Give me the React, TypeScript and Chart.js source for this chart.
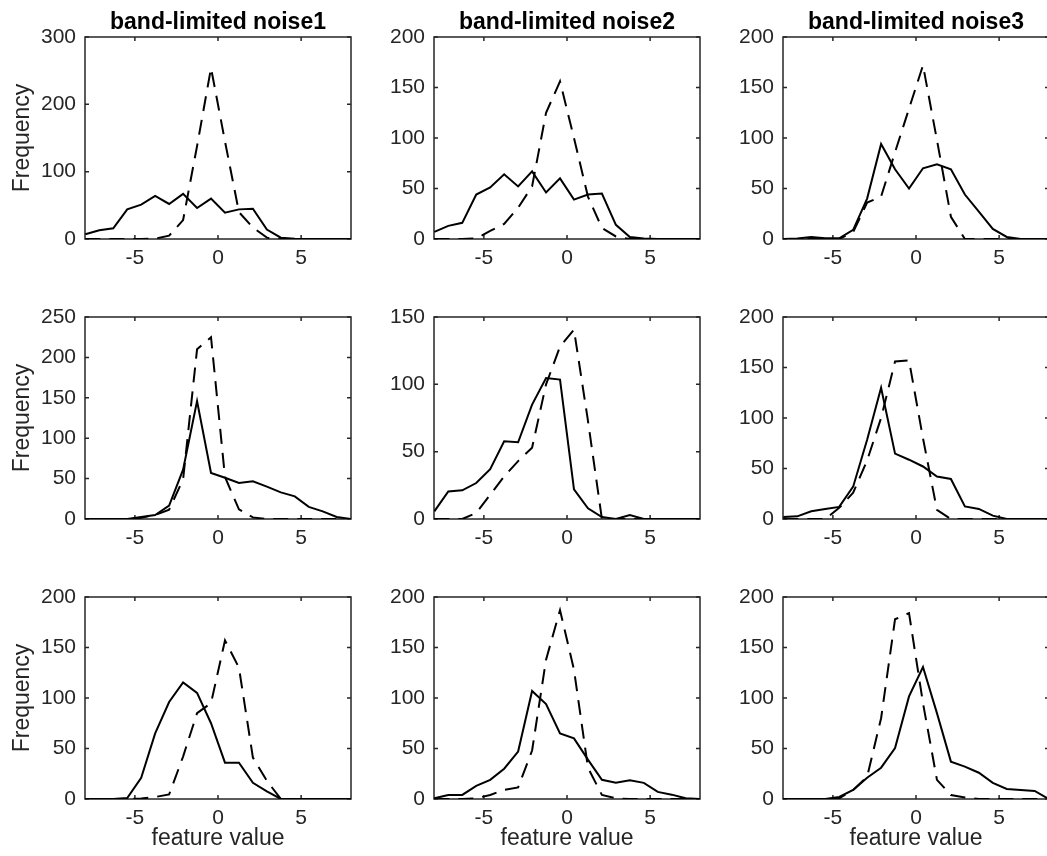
import React, { useEffect, useRef } from "react";
import { Chart, registerables } from "chart.js";

Chart.register(...registerables);

// ---------------- data ----------------
const binCenters = [
  -7.98, -7.14, -6.3, -5.46, -4.62, -3.78, -2.94, -2.1, -1.26, -0.42,
  0.42, 1.26, 2.1, 2.94, 3.78, 4.62, 5.46, 6.3, 7.14, 7.98,
];

const columnTitles = ["band-limited noise1", "band-limited noise2", "band-limited noise3"];
const yAxisLabel = "Frequency";
const xAxisLabel = "feature value";
const xTickValues = [-5, 0, 5];

const yTicksBy100to300 = [0, 100, 200, 300];
const yTicksBy50to250 = [0, 50, 100, 150, 200, 250];
const yTicksBy50to200 = [0, 50, 100, 150, 200];
const yTicksBy50to150 = [0, 50, 100, 150];

// row 1
const r1c1Solid = [7, 13, 16, 44, 51, 64, 52, 67, 46, 60, 39, 44, 45, 14, 2, 0.5, 0, 0, 0, 0];
const r1c1Dashed = [0, 0, 0, 0, 0, 0.5, 5, 28, 138, 254, 145, 40, 17, 2, 0, 0, 0, 0, 0, 0];
const r1c2Solid = [7, 13, 16, 44, 51, 64, 52, 67, 46, 60, 39, 44, 45, 14, 2, 0.5, 0, 0, 0, 0];
const r1c2Dashed = [0, 0, 0, 0.5, 8, 15, 31, 52, 125, 156, 100, 42, 11, 2.5, 0, 0, 0, 0, 0, 0];
const r1c3Solid = [0, 0.5, 2, 0.7, 0.7, 9, 40, 94, 69, 50, 70, 74, 69, 44, 27, 10, 2, 0, 0, 0];
const r1c3Dashed = [0, 0, 0, 0, 0, 7, 36, 42, 86, 129, 172, 98, 22, 0, 0, 0, 0, 0, 0, 0];

// row 2
const r2c1Solid = [0, 0, 0, 0, 2.5, 5, 16.5, 61, 146, 57, 51, 44.5, 46.6, 40, 33, 28, 15, 9.5, 2.5, 0];
const r2c1Dashed = [0, 0, 0, 0, 1.5, 5, 11.5, 49, 210, 225, 52, 12, 2, 0, 0, 0, 0, 0, 0, 0];
const r2c2Solid = [5.7, 20.5, 21.3, 26.7, 37, 57.7, 57, 85, 104.7, 103.5, 22, 8, 1.5, 0, 3, 0, 0, 0, 0, 0];
const r2c2Dashed = [0, 0, 0, 4.5, 18, 31.7, 43, 53, 100, 128, 140.6, 73, 0, 0, 0, 0, 0, 0, 0, 0];
const r2c3Solid = [2, 2.6, 7.6, 10, 12, 32, 78.5, 130, 64.7, 58.7, 52, 42, 39.6, 12.5, 10, 3.3, 0, 0, 0, 0];
const r2c3Dashed = [0, 0, 0, 0, 11, 26, 58, 100, 156, 157, 80, 9, 0, 0, 0, 0, 0, 0, 0, 0];

// row 3
const r3c1Solid = [0, 0, 0, 1, 21, 65, 96, 115.5, 105, 75, 36, 36, 16, 7.6, 0, 0, 0, 0, 0, 0];
const r3c1Dashed = [0, 0, 0, 0, 0.5, 2, 4.5, 42, 85, 95, 157, 130, 41, 18, 0, 0, 0, 0, 0, 0];
const r3c2Solid = [0.7, 4, 4, 13, 19, 30, 47, 107, 94, 65, 60, 39, 19, 16, 18.5, 16, 7, 4.3, 0.7, 0];
const r3c2Dashed = [0, 0, 0, 0.7, 4, 9, 11.5, 48, 138, 187, 128, 31, 4, 0.7, 0, 0, 0, 0, 0, 0];
const r3c3Solid = [0, 0, 0, 0, 2, 9, 21, 31, 50.5, 101.6, 130.7, 85, 37, 32, 26, 16, 10, 9, 8, 0];
const r3c3Dashed = [0, 0, 0, 0, 0.7, 9, 22, 80, 178, 184, 95, 19, 4, 1.5, 0, 0, 0, 0, 0, 0];

const panelSolid = [
  [r1c1Solid, r1c2Solid, r1c3Solid],
  [r2c1Solid, r2c2Solid, r2c3Solid],
  [r3c1Solid, r3c2Solid, r3c3Solid],
];
const panelDashed = [
  [r1c1Dashed, r1c2Dashed, r1c3Dashed],
  [r2c1Dashed, r2c2Dashed, r2c3Dashed],
  [r3c1Dashed, r3c2Dashed, r3c3Dashed],
];
const panelYTicks = [
  [yTicksBy100to300, yTicksBy50to200, yTicksBy50to200],
  [yTicksBy50to250, yTicksBy50to150, yTicksBy50to200],
  [yTicksBy50to200, yTicksBy50to200, yTicksBy50to200],
];

// ---------------- layout ----------------
const PLOT_LEFT = [85, 434, 783];
const PLOT_TOP = [37, 317, 597];
const PLOT_W = 266;
const PLOT_H = 202;
const PAD_L = 85;
const PAD_T = 37;
const PAD_R = 10;
const PAD_B = 57;
const FONT = "'Liberation Sans', Arial, Helvetica, sans-serif";
const AXIS_COLOR = "#262626";
const TICK_LEN = 4;

const boxPlugin = {
  id: "matlabBox",
  beforeDatasetsDraw(chart: any) {
    const { ctx, chartArea, scales } = chart;
    const { left, right, top, bottom } = chartArea;
    const xs = scales.x;
    const ys = scales.y;
    ctx.save();
    ctx.strokeStyle = AXIS_COLOR;
    ctx.lineWidth = 1.5;
    ctx.beginPath();
    xs.ticks.forEach((t: any) => {
      const px = xs.getPixelForValue(t.value);
      ctx.moveTo(px, bottom);
      ctx.lineTo(px, bottom - TICK_LEN);
      ctx.moveTo(px, top);
      ctx.lineTo(px, top + TICK_LEN);
    });
    ys.ticks.forEach((t: any) => {
      const py = ys.getPixelForValue(t.value);
      ctx.moveTo(left, py);
      ctx.lineTo(left + TICK_LEN, py);
      ctx.moveTo(right, py);
      ctx.lineTo(right - TICK_LEN, py);
    });
    ctx.stroke();
    ctx.strokeRect(left, top, right - left, bottom - top);
    ctx.restore();
  },
};

function Panel({ row, col }: { row: number; col: number }) {
  const ref = useRef<HTMLCanvasElement | null>(null);
  const width = PAD_L + PLOT_W + PAD_R;
  const height = PAD_T + PLOT_H + PAD_B;
  const hasTitle = row === 0;

  useEffect(() => {
    if (!ref.current) return;
    const solid = panelSolid[row][col];
    const dashed = panelDashed[row][col];
    const yTicks = panelYTicks[row][col];
    const chart = new Chart(ref.current, {
      type: "line",
      data: {
        datasets: [
          {
            data: binCenters.map((x, i) => ({ x, y: solid[i] })),
            borderColor: "#000",
            borderWidth: 2,
            pointRadius: 0,
            tension: 0,
            fill: false,
          },
          {
            data: binCenters.map((x, i) => ({ x, y: dashed[i] })),
            borderColor: "#000",
            borderWidth: 2,
            borderDash: [15, 9],
            pointRadius: 0,
            tension: 0,
            fill: false,
          },
        ],
      },
      options: {
        animation: false,
        responsive: false,
        events: [],
        layout: { padding: { top: hasTitle ? 0 : PAD_T, right: PAD_R, bottom: 0, left: 0 } },
        plugins: {
          legend: { display: false },
          tooltip: { enabled: false },
          title: {
            display: hasTitle,
            text: columnTitles[col],
            fullSize: false,
            color: "#000",
            font: { family: FONT, size: 23, weight: "bold" },
            padding: { top: 8.8, bottom: 0.6 },
          },
        },
        scales: {
          x: {
            type: "linear",
            min: -8,
            max: 8,
            afterBuildTicks: (s: any) => {
              s.ticks = xTickValues.map((v) => ({ value: v }));
            },
            afterFit: (s: any) => {
              s.height = PAD_B;
            },
            grid: { display: false, drawTicks: false },
            border: { display: false },
            ticks: {
              color: AXIS_COLOR,
              font: { family: FONT, size: 21 },
              padding: 6.9,
              maxRotation: 0,
              autoSkip: false,
            },
            title: {
              display: row === 2,
              text: xAxisLabel,
              color: AXIS_COLOR,
              font: { family: FONT, size: 23 },
              padding: { top: 0, bottom: 3.2 },
            },
          },
          y: {
            type: "linear",
            min: 0,
            max: yTicks[yTicks.length - 1],
            afterBuildTicks: (s: any) => {
              s.ticks = yTicks.map((v) => ({ value: v }));
            },
            afterFit: (s: any) => {
              s.width = PAD_L;
            },
            grid: { display: false, drawTicks: false },
            border: { display: false },
            ticks: {
              color: AXIS_COLOR,
              font: { family: FONT, size: 21 },
              padding: 9,
              autoSkip: false,
            },
            title: {
              display: col === 0,
              text: yAxisLabel,
              color: AXIS_COLOR,
              font: { family: FONT, size: 23 },
              padding: { top: 8.7, bottom: 0 },
            },
          },
        },
      },
      plugins: [boxPlugin],
    } as any);
    return () => chart.destroy();
  }, [row, col]);

  return (
    <canvas
      ref={ref}
      width={width}
      height={height}
      style={{
        position: "absolute",
        left: PLOT_LEFT[col] - PAD_L,
        top: PLOT_TOP[row] - PAD_T,
        width,
        height,
      }}
    />
  );
}

export default function App() {
  const cells: JSX.Element[] = [];
  for (let r = 0; r < 3; r++) {
    for (let c = 0; c < 3; c++) {
      cells.push(<Panel key={`${r}-${c}`} row={r} col={c} />);
    }
  }
  return (
    <div
      style={{
        position: "fixed",
        left: 0,
        top: 0,
        width: 1047,
        height: 856,
        overflow: "hidden",
        background: "#fff",
      }}
    >
      {cells}
    </div>
  );
}
